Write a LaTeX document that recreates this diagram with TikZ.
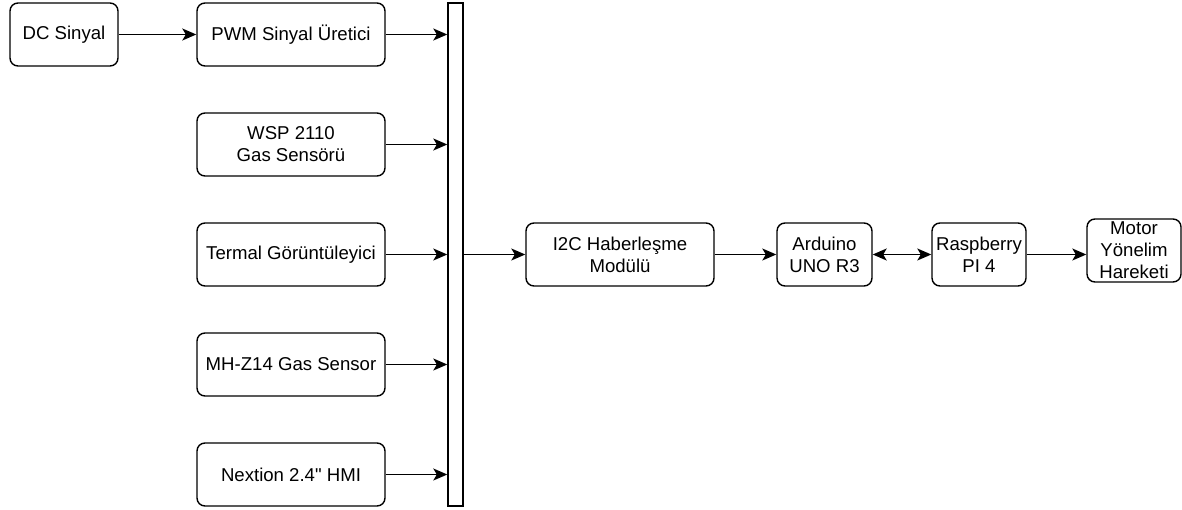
\documentclass[tikz,border=0pt]{standalone}
\usepackage{fontspec}
\setmainfont{Liberation Sans}
\usetikzlibrary{arrows.meta}
\begin{document}
\begin{tikzpicture}[x=1pt,y=-1pt,
  box/.style={draw=black, line width=1.4pt, rounded corners=8pt, inner sep=0pt,
    align=center, font=\fontsize{18.6}{22}\selectfont, text=black},
  arr/.style={line width=1.4pt, -{Stealth[length=14pt,width=12pt,inset=3.5pt]}},
  darr/.style={line width=1.4pt, {Stealth[length=14pt,width=12pt,inset=3.5pt]}-{Stealth[length=14pt,width=12pt,inset=3.5pt]}}]
\useasboundingbox (0,0) rectangle (1182,510);
\node[box, minimum width=108, minimum height=63] (dc) at (64,34.5) {DC Sinyal};
\node[box, minimum width=188, minimum height=63] (pwm) at (291,34.5) {PWM Sinyal Üretici};
\node[box, minimum width=188, minimum height=63] (wsp) at (291,144.5) {WSP 2110\\Gas Sensörü};
\node[box, minimum width=188, minimum height=63] (term) at (291,254.5) {Termal Görüntüleyici};
\node[box, minimum width=188, minimum height=63] (mh) at (291,364.5) {MH-Z14 Gas Sensor};
\node[box, minimum width=188, minimum height=63] (nex) at (291,474.5) {Nextion 2.4\textquotedbl{} HMI};
\node[draw=black, line width=1.4pt, inner sep=0pt, minimum width=15, minimum height=503] (bus) at (455.5,254.5) {};
\node[box, minimum width=188, minimum height=63] (i2c) at (620,254.5) {I2C Haberleşme\\Modülü};
\node[box, minimum width=95, minimum height=63] (ard) at (824.5,254.5) {Arduino\\UNO R3};
\node[box, minimum width=94, minimum height=63] (rasp) at (979,254.5) {Raspberry\\PI 4};
\node[box, minimum width=94, minimum height=63] (mot) at (1134,250.5) {Motor\\Yönelim\\Hareketi};
\draw[arr] (dc.east) -- (pwm.west);
\draw[arr] (pwm.east) -- (pwm.east -| bus.west);
\draw[arr] (wsp.east) -- (wsp.east -| bus.west);
\draw[arr] (term.east) -- (term.east -| bus.west);
\draw[arr] (mh.east) -- (mh.east -| bus.west);
\draw[arr] (nex.east) -- (nex.east -| bus.west);
\draw[arr] (bus.east |- i2c.west) -- (i2c.west);
\draw[arr] (i2c.east) -- (ard.west);
\draw[darr] (ard.east) -- (rasp.west);
\draw[arr] (rasp.east) -- (rasp.east -| mot.west);
\end{tikzpicture}
\end{document}
